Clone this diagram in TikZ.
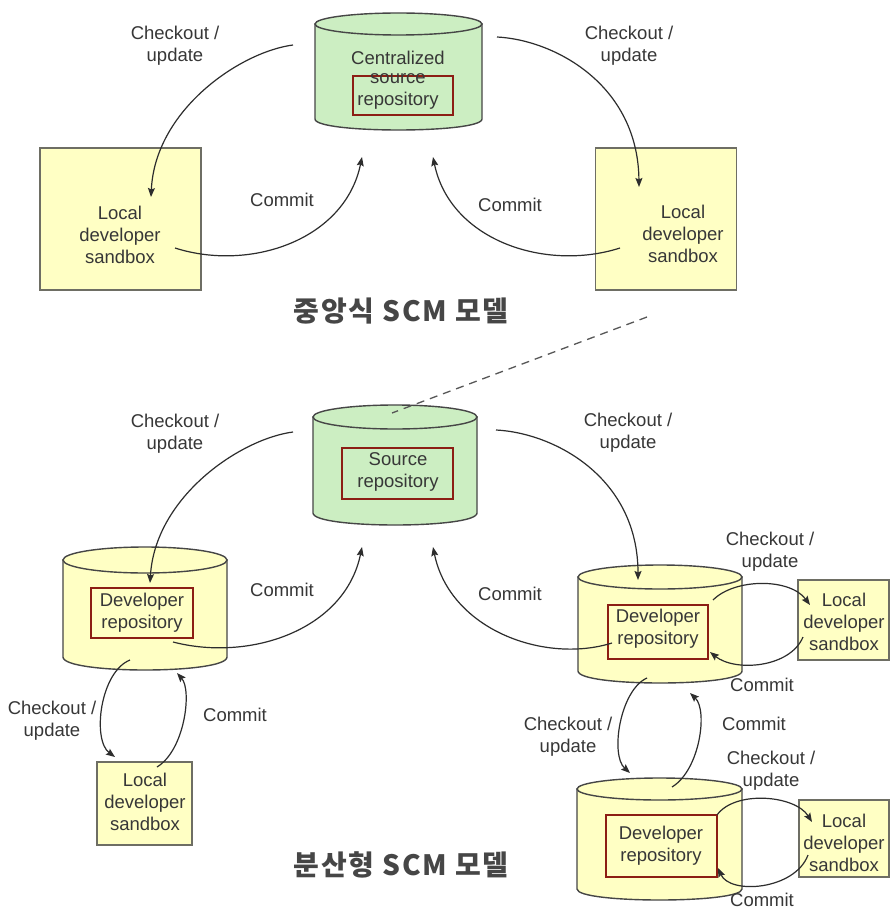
\documentclass[tikz,border=0pt]{standalone}
\usepackage{fontspec}
\setmainfont{Liberation Sans}
\newfontfamily\kr[LetterSpace=6]{Noto Sans CJK KR}
\usetikzlibrary{arrows.meta}
\definecolor{gfill}{RGB}{204,238,194}
\definecolor{yfill}{RGB}{255,255,196}
\definecolor{cylc}{RGB}{70,70,70}
\definecolor{boxline}{RGB}{110,110,100}
\definecolor{redc}{RGB}{140,30,20}
\definecolor{txtc}{RGB}{55,55,55}
\definecolor{arrc}{RGB}{45,45,45}
\definecolor{titlec}{RGB}{70,70,70}
\newcommand\cylshape[7]{%
  \pgfmathsetmacro\cx{(#2+#3)/2}\pgfmathsetmacro\rx{(#3-#2)/2}%
  \filldraw[cylline, fill=#7] (#2,#4) -- (#2,#5) .. controls (#2,{#5+1.333*#6}) and (#3,{#5+1.333*#6}) .. (#3,#5) -- (#3,#4) -- cycle;
  \filldraw[cylline, fill=#7] (\cx,#4) ellipse [x radius=\rx, y radius=#6];
  \coordinate (#1) at (\cx,{(#4+#5)/2});
}
\begin{document}
\begin{tikzpicture}[x=1pt,y=-1pt,
  txt/.style={font=\fontsize{18.5}{22}\selectfont, text=txtc, align=center, inner sep=0pt},
  sandbox/.style={draw=boxline, fill=yfill, line width=1.3pt, inner sep=0pt},
  redbox/.style={draw=redc, line width=1.3pt, inner sep=0pt},
  cylline/.style={draw=cylc, line width=1.4pt},
  conn/.style={draw=arrc, line width=1.2pt, -{Stealth[length=9pt,width=7pt,inset=1.5pt]}},
  dashconn/.style={draw=arrc!80, line width=1.3pt, dash pattern=on 8pt off 6pt},
  title/.style={font=\kr\bfseries\fontsize{28}{30}\selectfont, text=titlec, inner sep=0pt}]
\useasboundingbox[fill=white] (0,0) rectangle (891,909);

% ---------- centralized model ----------
\cylshape{cylT}{315}{482}{24}{119}{11}{gfill}
\node[redbox, minimum width=100pt, minimum height=39pt] (rbT) at (403,95.5) {};
\node[txt] (tT1) at (398,58) {Centralized};
\node[txt] (tT2) at (398,91.5) {source\\repository};

\node[sandbox, minimum width=161pt, minimum height=142pt] (sbTL) at (120.5,219) {};
\node[txt] (tsbTL) at (120,235) {Local\\developer\\sandbox};
\node[sandbox, minimum width=141pt, minimum height=142pt] (sbTR) at (666,219) {};
\node[txt] (tsbTR) at (683,234) {Local\\developer\\sandbox};

\node[txt] (lTL) at (175,46) {Checkout /\\update};
\node[txt] (lTR) at (629,46) {Checkout /\\update};
\node[txt] (cTL) at (282,200) {Commit};
\node[txt] (cTR) at (510,205) {Commit};

\node[title] (title1) at (401,311) {중앙식 SCM 모델};

\coordinate (aTL1) at (293,45);  \coordinate (aTL2) at (151,197);
\coordinate (aTR1) at (497,37);  \coordinate (aTR2) at (639,187);
\coordinate (mTL1) at (175,248); \coordinate (mTL2) at (362,157);
\coordinate (mTR1) at (620,248); \coordinate (mTR2) at (433,157);
\draw[conn] (aTL1) .. controls (240,52) and (155,110) .. (aTL2);
\draw[conn] (aTR1) .. controls (555,40) and (638,85) .. (aTR2);
\draw[conn] (mTL1) .. controls (250,272) and (345,240) .. (mTL2);
\draw[conn] (mTR1) .. controls (545,272) and (450,240) .. (mTR2);

% ---------- distributed model ----------
\cylshape{cylM}{313}{477}{417}{513}{12}{gfill}
\node[redbox, minimum width=111pt, minimum height=51pt] (rbM) at (397.5,473.5) {};
\node[txt] (tM) at (398,471.5) {Source\\repository};

\cylshape{cylL}{63}{227}{560}{657}{13}{yfill}
\node[redbox, minimum width=102pt, minimum height=50pt] (rbL) at (142,613) {};
\node[txt] (tL) at (142,613) {Developer\\repository};

\cylshape{cylR1}{578}{742}{577}{671}{12}{yfill}
\node[redbox, minimum width=100pt, minimum height=54pt] (rbR1) at (658,632) {};
\node[txt] (tR1) at (658,629) {Developer\\repository};

\cylshape{cylR2}{577}{742}{789}{889}{11}{yfill}
\node[redbox, minimum width=111pt, minimum height=62pt] (rbR2) at (661.5,846) {};
\node[txt] (tR2) at (661,846) {Developer\\repository};

\node[sandbox, minimum width=95pt, minimum height=83pt] (sbL) at (144.5,803.5) {};
\node[txt] (tsbL) at (145,802) {Local\\developer\\sandbox};
\node[sandbox, minimum width=91pt, minimum height=80pt] (sbR1) at (843.5,620) {};
\node[txt] (tsbR1) at (844,622) {Local\\developer\\sandbox};
\node[sandbox, minimum width=90pt, minimum height=77pt] (sbR2) at (844,838.5) {};
\node[txt] (tsbR2) at (844,843) {Local\\developer\\sandbox};

\node[txt] (lBL) at (175,434) {Checkout /\\update};
\node[txt] (lBR) at (628,433) {Checkout /\\update};
\node[txt] (cBL) at (282,590) {Commit};
\node[txt] (cBR) at (510,594) {Commit};
\node[txt] (lLL) at (52,721) {Checkout /\\update};
\node[txt] (cLL) at (235,715) {Commit};
\node[txt] (lRM) at (568,737) {Checkout /\\update};
\node[txt] (cRM) at (754,724) {Commit};
\node[txt] (lR1) at (770,552) {Checkout /\\update};
\node[txt] (cR1) at (762,685) {Commit};
\node[txt] (lR2) at (771,771) {Checkout /\\update};
\node[txt] (cR2) at (762,900) {Commit};

\node[title] (title2) at (401,865) {분산형 SCM 모델};

% dashed link between the two models
\coordinate (dA) at (647,317); \coordinate (dB) at (392,413);
\draw[dashconn] (dA) -- (dB);

\coordinate (aBL1) at (293,432);  \coordinate (aBL2) at (150,583);
\coordinate (aBR1) at (496,430);  \coordinate (aBR2) at (638,580);
\coordinate (mBL1) at (173,642);  \coordinate (mBL2) at (362,547);
\coordinate (mBR1) at (612,643);  \coordinate (mBR2) at (433,547);
\draw[conn] (aBL1) .. controls (240,439) and (155,497) .. (aBL2);
\draw[conn] (aBR1) .. controls (555,433) and (638,478) .. (aBR2);
\draw[conn] (mBL1) .. controls (250,662) and (345,630) .. (mBL2);
\draw[conn] (mBR1) .. controls (545,664) and (450,630) .. (mBR2);

\coordinate (vL1) at (130,660); \coordinate (vL2) at (115,757);
\coordinate (vL3) at (157,767); \coordinate (vL4) at (177,673);
\draw[conn] (vL1) .. controls (100,672) and (92,740) .. (vL2);
\draw[conn] (vL3) .. controls (185,750) and (192,690) .. (vL4);

\coordinate (vR1) at (647,678); \coordinate (vR2) at (630,773);
\coordinate (vR3) at (672,787); \coordinate (vR4) at (690,693);
\draw[conn] (vR1) .. controls (620,690) and (610,755) .. (vR2);
\draw[conn] (vR3) .. controls (700,770) and (708,710) .. (vR4);

\coordinate (s1a) at (713,600); \coordinate (s1b) at (810,605);
\coordinate (s1c) at (803,637); \coordinate (s1d) at (710,652);
\draw[conn] (s1a) .. controls (735,578) and (790,578) .. (s1b);
\draw[conn] (s1c) .. controls (790,668) and (735,672) .. (s1d);

\coordinate (s2a) at (717,815); \coordinate (s2b) at (812,822);
\coordinate (s2c) at (808,855); \coordinate (s2d) at (718,868);
\draw[conn] (s2a) .. controls (735,790) and (795,795) .. (s2b);
\draw[conn] (s2c) .. controls (795,890) and (730,895) .. (s2d);
\end{tikzpicture}
\end{document}
